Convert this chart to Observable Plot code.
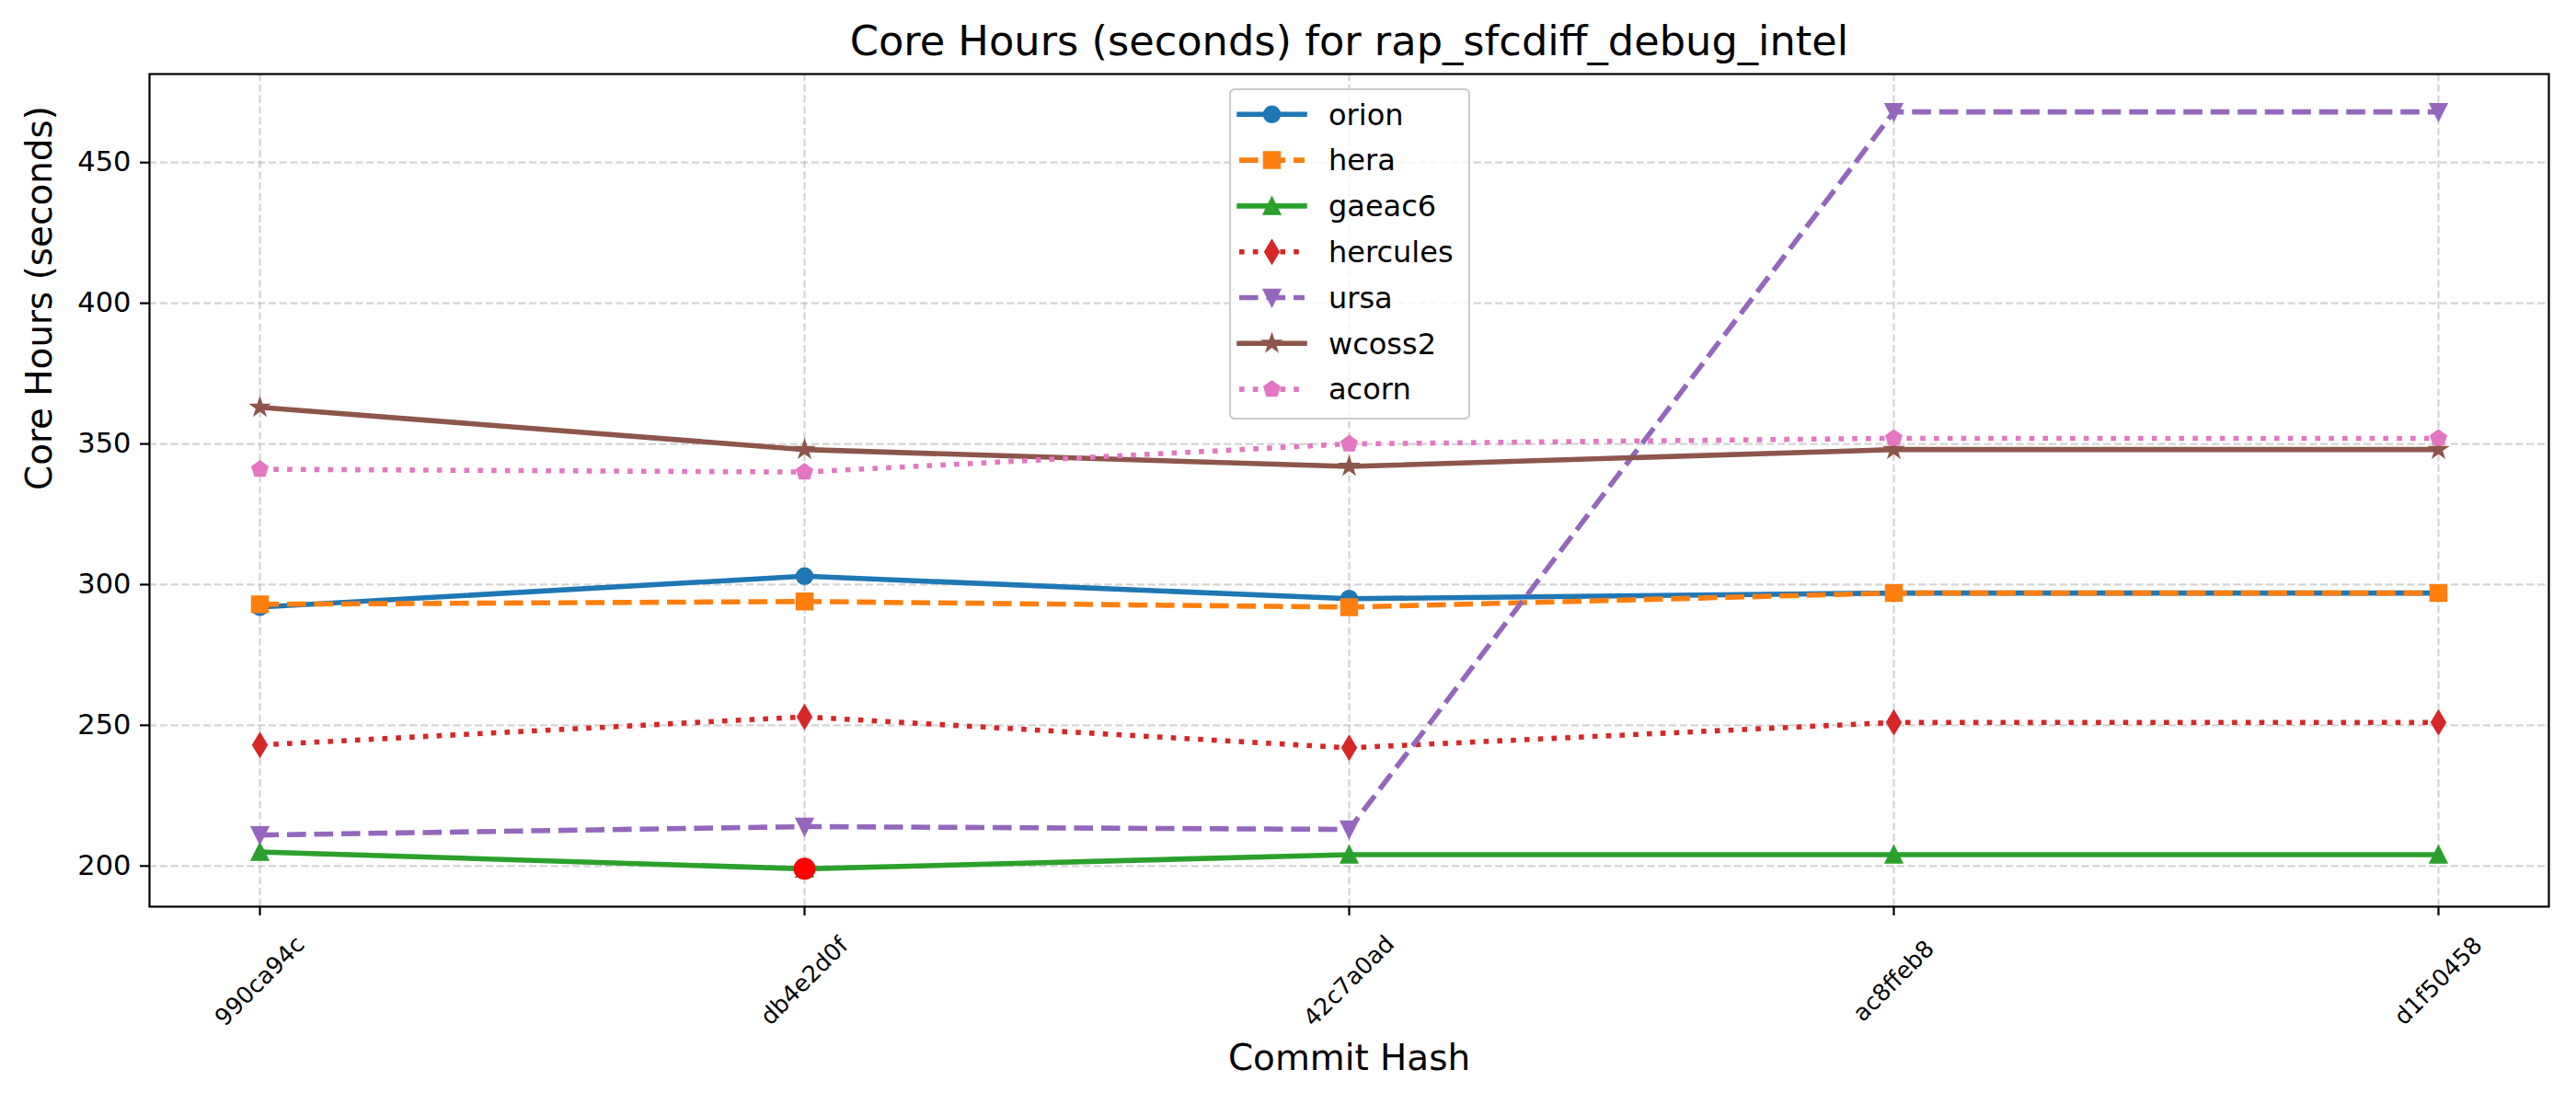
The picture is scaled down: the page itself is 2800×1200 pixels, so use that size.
<!DOCTYPE html>
<html><head><meta charset="utf-8">
<script src="https://cdn.jsdelivr.net/npm/d3@7"></script>
<script src="https://cdn.jsdelivr.net/npm/@observablehq/plot@0.6"></script>
<style>
html,body{margin:0;padding:0;background:#fff;}
#wrap{position:relative;width:2800px;height:1200px;font-family:"DejaVu Sans",sans-serif;}
#legend{position:absolute;left:1336px;top:96px;}
</style></head><body><div id="wrap"></div>
<script>
// ---- data ----
const commits = ["990ca94c", "db4e2d0f", "42c7a0ad", "ac8ffeb8", "d1f50458"];
const orion    = [292, 303, 295, 297, 297];
const hera     = [293, 294, 292, 297, 297];
const gaeac6   = [205, 199, 204, 204, 204];
const hercules = [243, 253, 242, 251, 251];
const ursa     = [211, 214, 213, 468, 468];
const wcoss2   = [363, 348, 342, 348, 348];
const acorn    = [341, 340, 350, 352, 352];
const systems = ["orion", "hera", "gaeac6", "hercules", "ursa", "wcoss2", "acorn"];
const seriesValues = [orion, hera, gaeac6, hercules, ursa, wcoss2, acorn];
const yTicks = [200, 250, 300, 350, 400, 450];
const titleText = "Core Hours (seconds) for rap_sfcdiff_debug_intel";
const xLabel = "Commit Hash";
const yLabel = "Core Hours (seconds)";

// ---- symbols (matplotlib-like) ----
function poly(points) {
  return {draw(ctx, size) {
    const r = Math.sqrt(size / Math.PI);
    points.forEach(([x, y], i) => i ? ctx.lineTo(x * r, y * r) : ctx.moveTo(x * r, y * r));
    ctx.closePath();
  }};
}
const symCircle = {draw(ctx, size) { const r = Math.sqrt(size / Math.PI); ctx.moveTo(r, 0); ctx.arc(0, 0, r, 0, 2 * Math.PI); ctx.closePath(); }};
const symSquare = poly([[-1, -1], [1, -1], [1, 1], [-1, 1]]);
const symTriUp = poly([[0, -1], [-1, 1], [1, 1]]);
const symTriDown = poly([[0, 1], [-1, -1], [1, -1]]);
const symThinDiamond = poly([[0, -1.414], [0.849, 0], [0, 1.414], [-0.849, 0]]);
const symPentagon = poly(d3.range(5).map(k => { const a = -Math.PI / 2 + k * 2 * Math.PI / 5; return [Math.cos(a), Math.sin(a)]; }));
const symStar = poly(d3.range(10).map(k => { const a = -Math.PI / 2 + k * Math.PI / 5; const rr = k % 2 ? 0.381966 : 1; return [rr * Math.cos(a), rr * Math.sin(a)]; }));

const LW = 5.56;
const DASHED = "20.6,8.9";
const DOTTED = "5.6,9.2";
const styles = {
  orion:    {color: "#1f77b4", dash: null,   symbol: symCircle},
  hera:     {color: "#ff7f0e", dash: DASHED, symbol: symSquare},
  gaeac6:   {color: "#2ca02c", dash: null,   symbol: symTriUp},
  hercules: {color: "#d62728", dash: DOTTED, symbol: symThinDiamond},
  ursa:     {color: "#9467bd", dash: DASHED, symbol: symTriDown},
  wcoss2:   {color: "#8c564b", dash: null,   symbol: symStar},
  acorn:    {color: "#e377c2", dash: DOTTED, symbol: symPentagon}
};
const MR = 8.35, MEW = 2.78;

// ---- rows ----
const rows = [];
systems.forEach((s, si) => seriesValues[si].forEach((v, i) => rows.push({series: s, commit: commits[i], value: v})));
const lowest = d3.least(rows, d => d.value);
const yMin = d3.min(rows, d => d.value), yMax = d3.max(rows, d => d.value);
const yPad = (yMax - yMin) * 0.05;

const seriesMarks = systems.flatMap(s => {
  const st = styles[s];
  const data = rows.filter(d => d.series === s);
  return [
    Plot.line(data, {x: "commit", y: "value", stroke: st.color, strokeWidth: LW,
      strokeDasharray: st.dash, strokeLinecap: st.dash ? "butt" : "square", strokeLinejoin: "round"}),
    Plot.dot(data, {x: "commit", y: "value", symbol: st.symbol, r: MR, fill: st.color, stroke: st.color, strokeWidth: MEW})
  ];
});

const gridStyle = {stroke: "#b0b0b0", strokeOpacity: 0.55, strokeWidth: 2.2, strokeDasharray: "8.2,3.6"};

const chart = Plot.plot({
  width: 2800, height: 1200,
  marginLeft: 162, marginRight: 30, marginTop: 80, marginBottom: 215,
  style: {fontFamily: '"DejaVu Sans", sans-serif', fontSize: "30px", color: "black", background: "white", overflow: "visible"},
  x: {type: "point", domain: commits, padding: 0.2, label: null},
  y: {domain: [yMin - yPad, yMax + yPad], label: null},
  marks: [
    Plot.gridX(commits, gridStyle),
    Plot.gridY(yTicks, gridStyle),
    ...seriesMarks,
    Plot.dot([lowest], {x: "commit", y: "value", r: 10.6, fill: "red", stroke: "red", strokeWidth: MEW}),
    Plot.frame({stroke: "black", strokeWidth: 2.2}),
    Plot.axisY(yTicks, {tickSize: 10, tickPadding: 10, fontSize: 30.5, strokeWidth: 2.2, label: null, fill: "black"}),
    Plot.axisX({tickSize: 10, tickPadding: 71, tickRotate: -45, textAnchor: "middle", lineAnchor: "middle", fontSize: 25.5, strokeWidth: 2.2, label: null, fill: "black"}),
    Plot.text([titleText], {frameAnchor: "top", dy: -21, lineAnchor: "bottom", fontSize: 44.7, fill: "black"}),
    Plot.text([xLabel], {frameAnchor: "bottom", dy: 177, lineAnchor: "bottom", fontSize: 38.9, fill: "black"}),
    Plot.text([yLabel], {frameAnchor: "left", dx: -119.4, rotate: -90, lineAnchor: "middle", fontSize: 38.9, fill: "black"})
  ]
});
document.getElementById("wrap").appendChild(chart);

// ---- legend ----
const LEG_W = 262, LEG_H = 360, ROW_H = 49.8, ROW0 = 28.3;
const leg = d3.select("#wrap").append("svg").attr("id", "legend")
  .attr("width", LEG_W).attr("height", LEG_H)
  .style("font-family", '"DejaVu Sans", sans-serif');
leg.append("rect").attr("x", 1).attr("y", 1).attr("width", LEG_W - 2).attr("height", LEG_H - 2)
  .attr("rx", 5).attr("fill", "rgba(255,255,255,0.8)").attr("stroke", "#cccccc").attr("stroke-width", 2.2);
systems.forEach((s, i) => {
  const st = styles[s];
  const cy = ROW0 + i * ROW_H;
  const g = leg.append("g");
  g.append("line").attr("x1", 11).attr("x2", 82).attr("y1", cy).attr("y2", cy)
    .attr("stroke", st.color).attr("stroke-width", LW)
    .attr("stroke-dasharray", st.dash).attr("stroke-linecap", st.dash ? "butt" : "square");
  g.append("path").attr("transform", `translate(46.5,${cy})`)
    .attr("d", d3.symbol(st.symbol, Math.PI * MR * MR)())
    .attr("fill", st.color).attr("stroke", st.color).attr("stroke-width", MEW);
  g.append("text").attr("x", 108).attr("y", cy).attr("dy", "0.35em")
    .attr("font-size", 32).attr("fill", "black").text(s);
});
</script>
</body></html>
